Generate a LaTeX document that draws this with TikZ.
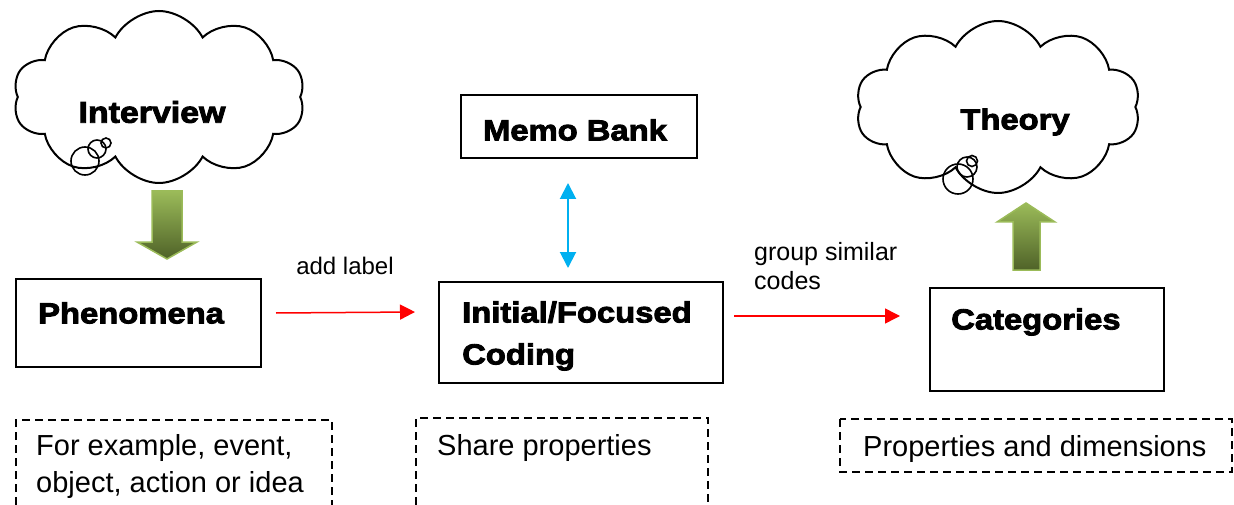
\documentclass[tikz,border=0pt]{standalone}
\usepackage{fontspec}
\setmainfont{Liberation Sans}
\newfontfamily\heavyfont[FakeStretch=1.13,FakeBold=3]{Liberation Sans}
\usetikzlibrary{shapes.symbols,arrows.meta}
\definecolor{leafgreen}{HTML}{9BBB59}
\definecolor{olivedark}{HTML}{4F6228}
\definecolor{skyblue}{HTML}{00B0F0}
\definecolor{pureRed}{HTML}{FF0000}
\begin{document}
\begin{tikzpicture}[x=1pt,y=-1pt,
  frame/.style={draw=black, line width=2pt, inner sep=0pt},
  heavy/.style={font=\heavyfont\bfseries\fontsize{29}{42}\selectfont, inner sep=0pt},
  plain/.style={font=\fontsize{29}{37}\selectfont, inner sep=0pt, align=left},
  small/.style={font=\fontsize{25}{29}\selectfont, inner sep=0pt, align=left},
  dashframe/.style={draw=black, line width=1.8pt, dash pattern=on 8pt off 5pt},
  flow/.style={draw=pureRed, line width=1.5pt, -{Triangle[length=15pt,width=15pt]}},
  memolink/.style={draw=skyblue, line width=2pt,
    {Triangle[length=16pt,width=16pt]}-{Triangle[length=16pt,width=16pt]}},
  thought/.style={cloud, draw=black, line width=2pt, cloud puffs=10,
    cloud puff arc=125, cloud ignores aspect, inner sep=0pt},
  bubble/.style={circle, draw=black, line width=1.6pt, inner sep=0pt},
  blockarrow/.style={draw=leafgreen, line width=1.5pt, top color=leafgreen, bottom color=olivedark}]
\useasboundingbox (0,0) rectangle (1234,505);

% thought clouds
\node[thought, minimum width=292, minimum height=172] (interview) at (159,97) {};
\node[heavy, font=\heavyfont\bfseries\fontsize{30}{36}\selectfont] (interviewT) at (152,112) {Interview};
\node[bubble, minimum size=28] (ib1) at (85,161) {};
\node[bubble, minimum size=18] (ib2) at (97,149) {};
\node[bubble, minimum size=10] (ib3) at (106,143) {};

\node[thought, minimum width=285, minimum height=172] (theory) at (998,107) {};
\node[heavy] (theoryT) at (1015,122) {Theory};
\node[bubble, minimum size=30] (tb1) at (958,179) {};
\node[bubble, minimum size=20] (tb2) at (967,167) {};
\node[bubble, minimum size=11] (tb3) at (972,161) {};

% green block arrows
\path[blockarrow] (152,191) -- (182,191) -- (182,242) -- (197,242) -- (167,259)
  -- (137,242) -- (152,242) -- cycle;
\path[blockarrow] (1026,203) -- (1055,222) -- (1040,222) -- (1040,270) -- (1013,270)
  -- (1013,222) -- (997,222) -- cycle;

% boxes
\node[frame, minimum width=245, minimum height=88] (phen) at (138.5,323) {};
\node[heavy, anchor=west] (phenT) at (38,313) {Phenomena};

\node[frame, minimum width=236, minimum height=63] (memo) at (579,126.5) {};
\node[heavy] (memoT) at (575,130) {Memo Bank};

\node[frame, minimum width=284, minimum height=101] (coding) at (581,332.5) {};
\node[heavy, anchor=west, align=left] (codingT) at (462,336) {Initial/Focused\\Coding};

\node[frame, minimum width=234, minimum height=103] (cat) at (1047,339.5) {};
\node[heavy, anchor=west] (catT) at (951,322) {Categories};

% connectors
\coordinate (f1s) at (276,313);
\coordinate (f1e) at (415,312);
\draw[flow] (f1s) -- (f1e);
\node[small, font=\fontsize{24}{29}\selectfont] (addlabel) at (345,266) {add label};

\coordinate (f2s) at (734,316);
\coordinate (f2e) at (900,316);
\draw[flow] (f2s) -- (f2e);
\node[small, anchor=west] (group) at (754,266.5) {group similar\\codes};

\coordinate (m1) at (568,183);
\coordinate (m2) at (568,268);
\draw[memolink] (m1) -- (m2);

% notes
\draw[dashframe] (16,505) -- (16,420) -- (332,420) -- (332,505);
\node[plain, anchor=west] (note1) at (36,466) {For example, event,\\object, action or idea};

\draw[dashframe] (416,505) -- (416,418) -- (708,418) -- (708,505);
\node[plain, anchor=west] (note2) at (437,448) {Share properties};

\draw[dashframe] (840,419) rectangle (1232,472);
\node[plain, anchor=west] (note3) at (863,449) {Properties and dimensions};
\end{tikzpicture}
\end{document}
